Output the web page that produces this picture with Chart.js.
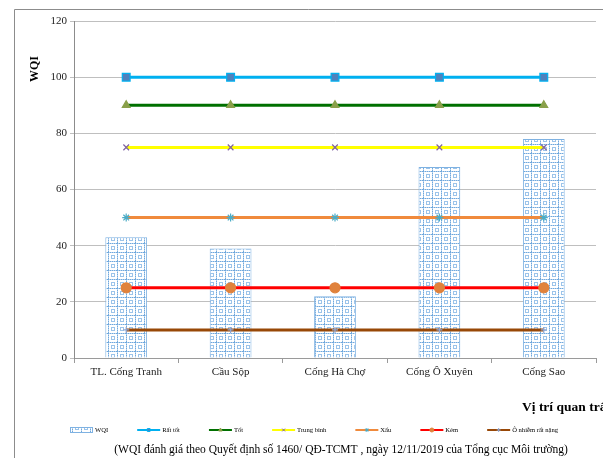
<!DOCTYPE html>
<html>
<head>
<meta charset="utf-8">
<script src="https://cdn.jsdelivr.net/npm/chart.js@4.4.1/dist/chart.umd.min.js"></script>
<style>
  html, body { margin: 0; padding: 0; background: #fff; }
  #wrap { width: 603px; height: 458px; }
</style>
</head>
<body>
<div id="wrap"><canvas id="chart" width="603" height="458"></canvas></div>
<script>
// Data
const categories = ["TL. Cống Tranh", "Cầu Sộp", "Cống Hà Chợ", "Cống Ô Xuyên", "Cống Sao"];
const wqi = [43, 39, 22, 68, 78];
const ratTot = [100, 100, 100, 100, 100];
const tot = [90, 90, 90, 90, 90];
const trungBinh = [75, 75, 75, 75, 75];
const xau = [50, 50, 50, 50, 50];
const kem = [25, 25, 25, 25, 25];
const oNhiem = [10, 10, 10, 10, 10];
const yTicks = [0, 20, 40, 60, 80, 100, 120];

const SERIF = "'Liberation Serif', 'DejaVu Serif', serif";

// grid-like fill for the WQI bars
function makePattern() {
    const n = 9;
    const c = document.createElement("canvas");
    c.width = n; c.height = n;
    const g = c.getContext("2d");
    g.fillStyle = "#ffffff";
    g.fillRect(0, 0, n, n);
    // main dotted grid lines
    for (let i = 0; i < n; i++) {
        g.fillStyle = (i % 2 === 0) ? "#6fa8dc" : "#b3d1ef";
        g.fillRect(i, 0, 1, 1);
        g.fillRect(0, i, 1, 1);
    }
    // small inner squares
    g.fillStyle = "#9cc4ea";
    for (let i = 3; i <= 6; i++) {
        g.fillRect(i, 3, 1, 1);
        g.fillRect(i, 6, 1, 1);
        g.fillRect(3, i, 1, 1);
        g.fillRect(6, i, 1, 1);
    }
    return g.createPattern(c, "repeat");
}
const barFill = makePattern();

function lineSet(label, data, color, style, markerFill, markerBorder, radius) {
    return {
        type: "line",
        label: label,
        data: data,
        borderColor: color,
        borderWidth: 3,
        pointStyle: style,
        pointRadius: radius,
        pointBackgroundColor: markerFill,
        pointBorderColor: markerBorder,
        pointBorderWidth: 1.2,
        fill: false,
        order: 1
    };
}

// legend, axis titles, frame and footnote
const extras = {
    id: "extras",
    afterDraw(chart) {
        const ctx = chart.ctx;
        ctx.save();

        // outer frame (top + left)
        ctx.strokeStyle = "#8c8c8c";
        ctx.lineWidth = 1;
        ctx.beginPath();
        ctx.moveTo(14.5, 458);
        ctx.lineTo(14.5, 9.5);
        ctx.lineTo(603, 9.5);
        ctx.stroke();

        // y title
        ctx.fillStyle = "#000";
        ctx.font = "bold 12px " + SERIF;
        ctx.textAlign = "center";
        ctx.textBaseline = "middle";
        ctx.translate(35, 69);
        ctx.rotate(-Math.PI / 2);
        ctx.fillText("WQI", 0, 0);
        ctx.setTransform(1, 0, 0, 1, 0, 0);

        // x title (runs off the right edge as in the reference)
        ctx.textAlign = "left";
        ctx.font = "bold 13.5px " + SERIF;
        ctx.fillText("Vị trí quan trắc", 522, 408);

        // legend
        let x = 70;
        const y = 430;
        ctx.font = "6.6px " + SERIF;
        chart.data.datasets.forEach((ds) => {
            if (ds.type === "bar") {
                ctx.fillStyle = barFill;
                ctx.fillRect(x, y - 2.5, 23, 5);
                ctx.strokeStyle = ds.borderColor;
                ctx.lineWidth = 1;
                ctx.strokeRect(x + 0.5, y - 2.5, 22, 5);
            } else {
                ctx.strokeStyle = ds.borderColor;
                ctx.lineWidth = 2;
                ctx.beginPath();
                ctx.moveTo(x, y);
                ctx.lineTo(x + 23, y);
                ctx.stroke();
                ctx.fillStyle = ds.pointBackgroundColor;
                ctx.strokeStyle = ds.pointBorderColor;
                ctx.lineWidth = 1;
                Chart.helpers.drawPoint(ctx, {
                    pointStyle: ds.pointStyle,
                    radius: 2,
                    borderWidth: 1
                }, x + 11.5, y);
            }
            ctx.fillStyle = "#000";
            ctx.textAlign = "left";
            ctx.fillText(ds.label, x + 25, y);
            x += 25 + ctx.measureText(ds.label).width + 29;
        });

        // footnote
        ctx.font = "11.5px " + SERIF;
        ctx.textAlign = "center";
        ctx.fillStyle = "#000";
        ctx.fillText("(WQI đánh giá theo Quyết định số 1460/ QĐ-TCMT , ngày 12/11/2019 của Tổng cục Môi trường)", 341, 450);

        ctx.restore();
    }
};

new Chart(document.getElementById("chart"), {
    type: "bar",
    data: {
        labels: categories,
        datasets: [
            {
                type: "bar",
                label: "WQI",
                data: wqi,
                backgroundColor: barFill,
                borderColor: "#7fb2e2",
                borderWidth: 1,
                barPercentage: 0.4,
                categoryPercentage: 1,
                order: 2
            },
            lineSet("Rất tốt", ratTot, "#00b0f0", "rect", "#4f81bd", "#00b0f0", 5.5),
            lineSet("Tốt", tot, "#007000", "triangle", "#8aa04a", "#8aa04a", 4.5),
            lineSet("Trung bình", trungBinh, "#ffff00", "crossRot", "#8064a2", "#8064a2", 4),
            lineSet("Xấu", xau, "#f08a3c", "star", "#4bacc6", "#4bacc6", 4),
            lineSet("Kém", kem, "#ff0000", "circle", "#e0823c", "#e0823c", 5),
            lineSet("Ô nhiễm rất nặng", oNhiem, "#984807", "cross", "#8ea5d2", "#8ea5d2", 3)
        ]
    },
    options: {
        responsive: false,
        animation: false,
        layout: { padding: { left: 0, top: 21, right: 7, bottom: 70 } },
        plugins: {
            legend: { display: false },
            tooltip: { enabled: false }
        },
        scales: {
            x: {
                offset: true,
                afterFit(scale) { scale.height = 30; },
                grid: {
                    offset: true,
                    drawOnChartArea: false,
                    drawTicks: true,
                    tickLength: 5,
                    color: "#9a9a9a"
                },
                border: { color: "#9a9a9a", width: 1 },
                ticks: {
                    color: "#222",
                    padding: 3,
                    font: { family: SERIF, size: 11 },
                    maxRotation: 0
                }
            },
            y: {
                min: 0,
                max: 120,
                afterFit(scale) { scale.width = 74; },
                afterBuildTicks(scale) { scale.ticks = yTicks.map(v => ({ value: v })); },
                grid: {
                    color: "#bfbfbf",
                    tickLength: 4,
                    drawTicks: true
                },
                border: { color: "#8c8c8c", width: 1 },
                ticks: {
                    color: "#222",
                    padding: 3,
                    font: { family: SERIF, size: 11 }
                }
            }
        }
    },
    plugins: [extras]
});
</script>
</body>
</html>
